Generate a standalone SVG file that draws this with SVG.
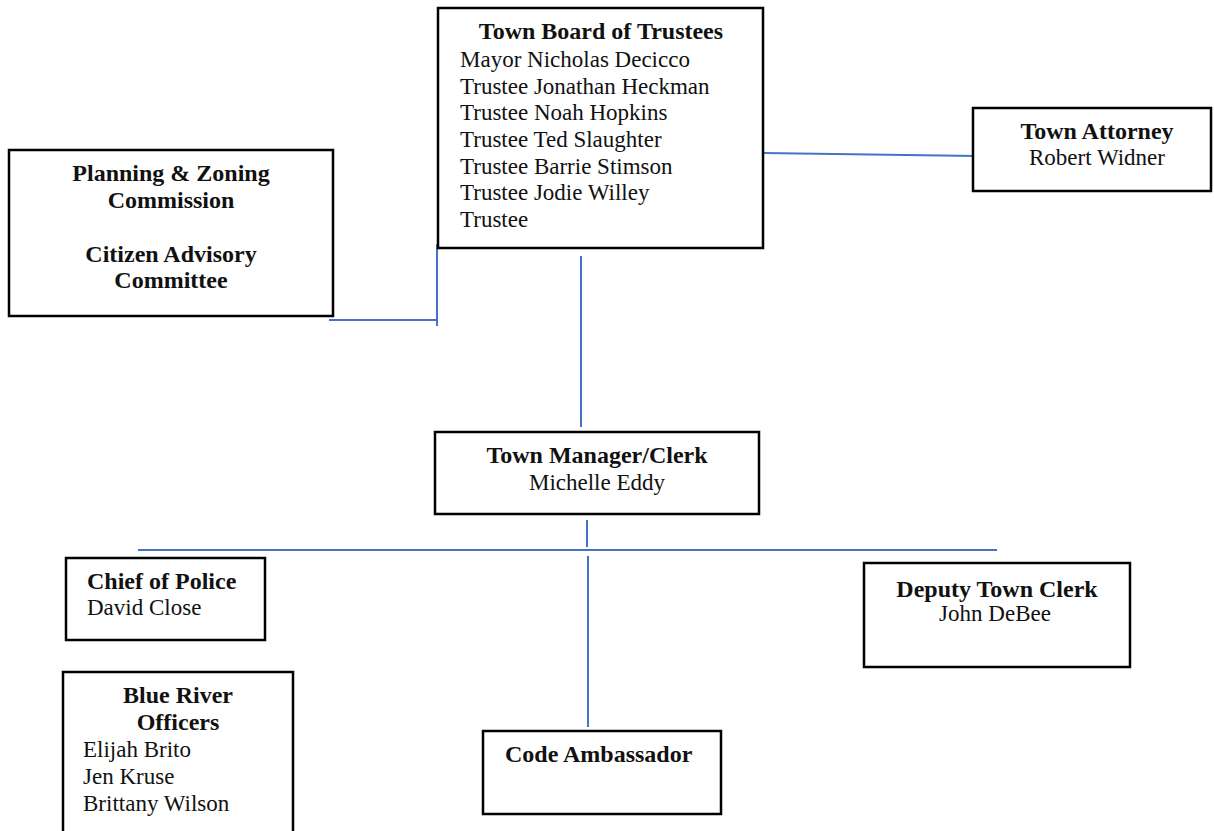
<svg xmlns="http://www.w3.org/2000/svg" width="1214" height="831" viewBox="0 0 1214 831">
<style>
.box{fill:#fff;stroke:#000;stroke-width:2.5}
.ln{stroke:#4472C4;stroke-width:2;fill:none}
text{font-family:"Liberation Serif","Times New Roman",serif;fill:#111;font-size:23px}
.b{font-weight:bold;font-size:24px}
.c{text-anchor:middle}
</style>
<rect width="1214" height="831" fill="#fff"/>
<g id="connectors">
<line class="ln" x1="763" y1="153" x2="977" y2="156"/>
<line class="ln" x1="437" y1="244" x2="437" y2="326"/>
<line class="ln" x1="329" y1="320" x2="438" y2="320"/>
<line class="ln" x1="581" y1="256" x2="581" y2="427"/>
<line class="ln" x1="587" y1="520" x2="587" y2="547"/>
<line class="ln" x1="138" y1="550" x2="997" y2="550"/>
<line class="ln" x1="588" y1="556" x2="588" y2="727"/>
</g>
<g id="board">
<rect class="box" x="438" y="8" width="325" height="240"/>
<text class="b c" x="601" y="39">Town Board of Trustees</text>
<text x="460" y="67">Mayor Nicholas Decicco</text>
<text x="460" y="93.5">Trustee Jonathan Heckman</text>
<text x="460" y="120">Trustee Noah Hopkins</text>
<text x="460" y="147">Trustee Ted Slaughter</text>
<text x="460" y="173.5">Trustee Barrie Stimson</text>
<text x="460" y="200">Trustee Jodie Willey</text>
<text x="460" y="227">Trustee</text>
</g>
<g id="attorney">
<rect class="box" x="973" y="108" width="238" height="83"/>
<text class="b c" x="1097" y="139">Town Attorney</text>
<text class="c" x="1097" y="165">Robert Widner</text>
</g>
<g id="planning">
<rect class="box" x="9" y="150" width="324" height="166"/>
<text class="b c" x="171" y="181">Planning &amp; Zoning</text>
<text class="b c" x="171" y="208">Commission</text>
<text class="b c" x="171" y="262">Citizen Advisory</text>
<text class="b c" x="171" y="288">Committee</text>
</g>
<g id="manager">
<rect class="box" x="435" y="432" width="324" height="82"/>
<text class="b c" x="597" y="463">Town Manager/Clerk</text>
<text class="c" x="597" y="490">Michelle Eddy</text>
</g>
<g id="police">
<rect class="box" x="66" y="558" width="199" height="82"/>
<text class="b" x="87" y="589">Chief of Police</text>
<text x="87" y="615">David Close</text>
</g>
<g id="deputy">
<rect class="box" x="864" y="563" width="266" height="104"/>
<text class="b c" x="997" y="597">Deputy Town Clerk</text>
<text class="c" x="995" y="621">John DeBee</text>
</g>
<g id="officers">
<rect class="box" x="63" y="672" width="230" height="175"/>
<text class="b c" x="178" y="703">Blue River</text>
<text class="b c" x="178" y="730">Officers</text>
<text x="83" y="757">Elijah Brito</text>
<text x="83" y="784">Jen Kruse</text>
<text x="83" y="811">Brittany Wilson</text>
</g>
<g id="code">
<rect class="box" x="483" y="731" width="238" height="83"/>
<text class="b" x="505" y="762">Code Ambassador</text>
</g>
</svg>
